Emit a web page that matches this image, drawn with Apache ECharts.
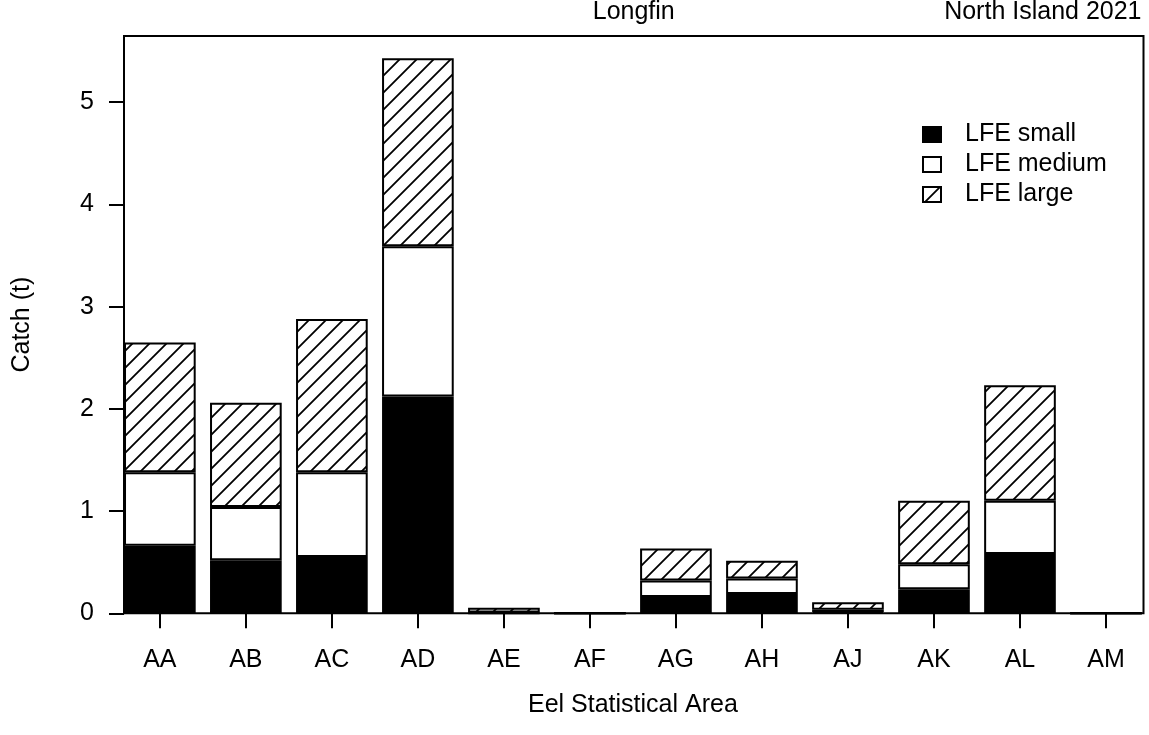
<!DOCTYPE html>
<html>
<head>
<meta charset="utf-8">
<title>Longfin catch, North Island 2021</title>
<script src="https://cdn.jsdelivr.net/npm/echarts@6/dist/echarts.min.js"></script>
<style>
  html, body { margin: 0; padding: 0; background: #fff; }
  #chart { width: 1149px; height: 735px; }
</style>
</head>
<body>
<div id="chart"></div>
<script>
// Eel statistical areas along the x axis
const categories = ['AA', 'AB', 'AC', 'AD', 'AE', 'AF', 'AG', 'AH', 'AJ', 'AK', 'AL', 'AM'];

// Catch (t) by size class, stacked small -> medium -> large
const lfeSmall  = [0.66, 0.52, 0.55, 2.12, 0.003, 0, 0.16, 0.19, 0.012, 0.235, 0.58, 0];
const lfeMedium = [0.72, 0.52, 0.83, 1.47, 0.005, 0, 0.16, 0.15, 0.023, 0.245, 0.52, 0];
const lfeLarge  = [1.27, 1.02, 1.50, 1.84, 0.047, 0, 0.315, 0.175, 0.073, 0.62, 1.13, 0];

const yTicks = [0, 1, 2, 3, 4, 5];
const seriesNames = ['LFE small', 'LFE medium', 'LFE large'];

const FONT = "'Liberation Sans', Arial, Helvetica, sans-serif";
const FS = 25;

// Stacked totals set the top of the value range (4% head room)
const totals = categories.map((_, i) => lfeSmall[i] + lfeMedium[i] + lfeLarge[i]);
const yMax = Math.max.apply(null, totals) * 1.04;

// Diagonal hatching used for the large size class
function hatchPattern() {
  const s = 17;
  const c = document.createElement('canvas');
  c.width = s; c.height = s;
  const g = c.getContext('2d');
  g.fillStyle = '#fff';
  g.fillRect(0, 0, s, s);
  g.strokeStyle = '#000';
  g.lineWidth = 1.8;
  g.beginPath();
  g.moveTo(-1, s + 1); g.lineTo(s + 1, -1);
  g.moveTo(-1, 1); g.lineTo(1, -1);
  g.moveTo(s - 1, s + 1); g.lineTo(s + 1, s - 1);
  g.stroke();
  return c;
}

const chart = echarts.init(document.getElementById('chart'), null, { renderer: 'canvas' });

const plotLeft = 124, plotRight = 1143.5, plotTop = 36, plotBottom = 613.3;
const band = 86.15;

const barStyle = { borderColor: '#000', borderWidth: 2 };

const option = {
  backgroundColor: '#fff',
  animation: false,
  textStyle: { fontFamily: FONT, color: '#000' },
  grid: [
    { // framed plotting region
      left: plotLeft, top: plotTop, width: plotRight - plotLeft, height: plotBottom - plotTop,
      show: true, borderColor: '#000', borderWidth: 2, backgroundColor: 'transparent'
    },
    { // bar placement: one band per area, centred on the tick marks
      left: (plotLeft + plotRight) / 2 - band * categories.length / 2,
      width: band * categories.length,
      top: plotTop, height: plotBottom - plotTop, show: false
    }
  ],
  xAxis: [
    { gridIndex: 0, type: 'value', show: false, min: 0, max: 1 },
    {
      gridIndex: 1, type: 'category', data: categories,
      axisLine: { show: false },
      axisTick: { show: true, alignWithLabel: true, length: 15, lineStyle: { color: '#000', width: 2 } },
      axisLabel: { fontSize: FS, color: '#000', margin: 34, fontFamily: FONT },
      name: 'Eel Statistical Area', nameLocation: 'middle', nameGap: 79,
      nameTextStyle: { fontSize: FS, color: '#000', fontFamily: FONT }
    }
  ],
  yAxis: [
    {
      gridIndex: 0, type: 'value', min: 0, max: yMax,
      axisLine: { show: true, lineStyle: { color: '#000', width: 2 } },
      axisTick: { show: true, length: 15, lineStyle: { color: '#000', width: 2 }, customValues: yTicks },
      axisLabel: { fontSize: FS, color: '#000', margin: 30, fontFamily: FONT, customValues: yTicks },
      splitLine: { show: false },
      name: 'Catch (t)', nameLocation: 'middle', nameGap: 89, nameRotate: 90,
      nameTextStyle: { fontSize: FS, color: '#000', fontFamily: FONT }
    },
    { gridIndex: 1, type: 'value', min: 0, max: yMax, show: false }
  ],
  legend: {
    orient: 'vertical', left: 922, top: 122, padding: 0,
    icon: 'rect', itemWidth: 18, itemHeight: 15, itemGap: 5,
    data: seriesNames,
    textStyle: { fontSize: FS, color: '#000', fontFamily: FONT, padding: [0, 0, 0, 19] }
  },
  graphic: [
    { type: 'text', x: (plotLeft + plotRight) / 2, y: 12,
      style: { text: 'Longfin', font: FS + 'px ' + FONT, fill: '#000', align: 'center', verticalAlign: 'middle' } },
    { type: 'text', x: plotRight - 2, y: 12,
      style: { text: 'North Island 2021', font: FS + 'px ' + FONT, fill: '#000', align: 'right', verticalAlign: 'middle' } }
  ],
  series: [
    { name: seriesNames[0], type: 'bar', stack: 'catch', xAxisIndex: 1, yAxisIndex: 1,
      barWidth: '83.33%', data: lfeSmall, itemStyle: Object.assign({ color: '#000' }, barStyle) },
    { name: seriesNames[1], type: 'bar', stack: 'catch', xAxisIndex: 1, yAxisIndex: 1,
      barWidth: '83.33%', data: lfeMedium, itemStyle: Object.assign({ color: '#fff' }, barStyle) },
    { name: seriesNames[2], type: 'bar', stack: 'catch', xAxisIndex: 1, yAxisIndex: 1,
      barWidth: '83.33%', data: lfeLarge,
      itemStyle: Object.assign({ color: { image: hatchPattern(), repeat: 'repeat' } }, barStyle) }
  ]
};

chart.setOption(option);
</script>
</body>
</html>
